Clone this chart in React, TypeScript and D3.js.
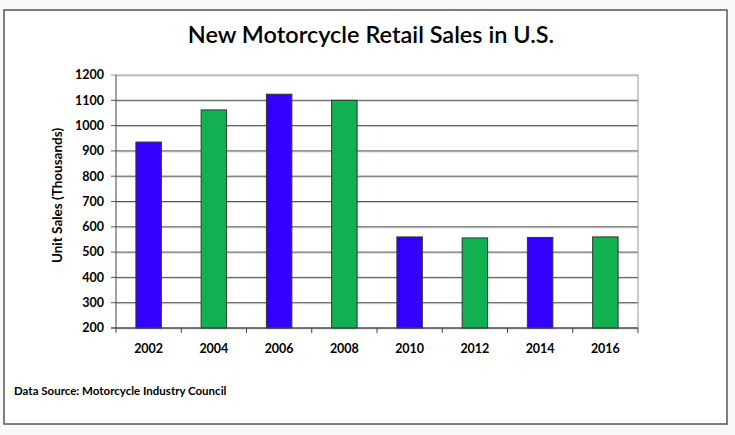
import React from "react";
import * as d3 from "d3";

const years = ["2002", "2004", "2006", "2008", "2010", "2012", "2014", "2016"];
const sales = [935, 1062, 1124, 1100, 560, 556, 558, 560];
const barColors = ["#3300FF", "#11B050", "#3300FF", "#11B050", "#3300FF", "#11B050", "#3300FF", "#11B050"];
const yTicks = [200, 300, 400, 500, 600, 700, 800, 900, 1000, 1100, 1200];

const W = 735;
const H = 435;
const plot = { left: 116, right: 638, top: 75, bottom: 328 };
const FONT = "Lato, 'DejaVu Sans', sans-serif";

export default function App() {
  const x = d3.scaleBand<string>().domain(years).range([plot.left, plot.right]).paddingInner(0.61).paddingOuter(0.305);
  const xStep = d3.scaleBand<string>().domain(years).range([plot.left, plot.right]);
  const y = d3.scaleLinear().domain([200, 1200]).range([plot.bottom, plot.top]);

  return (
    <svg width={W} height={H} style={{ position: "absolute", left: 0, top: 0, background: "#f8f8f8" }}>
      <rect x={4} y={10} width={723} height={414} fill="#ffffff" stroke="#555" strokeWidth={1.5} />
      <text x={371} y={43} textAnchor="middle" fontFamily={FONT} fontSize={23.5} fontWeight={600} fill="#000">
        New Motorcycle Retail Sales in U.S.
      </text>
      {/* gridlines */}
      {yTicks.map((t) => (
        <g key={t}>
          <line x1={plot.left} x2={plot.right} y1={y(t) + 1} y2={y(t) + 1} stroke="#cfcfcf" strokeWidth={1} />
          <line x1={plot.left - 5} x2={plot.right} y1={y(t)} y2={y(t)} stroke={t === 1200 ? "#999" : "#555"} strokeWidth={1} />
          <text x={104} y={y(t)} dy="0.35em" textAnchor="end" fontFamily={FONT} fontSize={12.5} fontWeight={700} fill="#000">
            {t}
          </text>
        </g>
      ))}
      <line x1={plot.right} x2={plot.right} y1={plot.top} y2={plot.bottom} stroke="#999" strokeWidth={1} />
      {/* bars */}
      {years.map((yr, i) => (
        <rect
          key={yr}
          x={x(yr)}
          y={y(sales[i])}
          width={x.bandwidth()}
          height={y(200) - y(sales[i])}
          fill={barColors[i]}
          stroke="#333"
          strokeWidth={1}
        />
      ))}
      {/* axes */}
      <line x1={plot.left} x2={plot.left} y1={plot.top} y2={plot.bottom} stroke="#444" strokeWidth={1} />
      <line x1={plot.left - 5} x2={plot.right} y1={plot.bottom} y2={plot.bottom} stroke="#444" strokeWidth={1} />
      {[...years.map((yr) => xStep(yr) as number), plot.right].map((xv, i) => (
        <line key={i} x1={xv} x2={xv} y1={plot.bottom} y2={plot.bottom + 5} stroke="#444" strokeWidth={1} />
      ))}
      {years.map((yr) => (
        <text key={yr} x={(x(yr) as number) + x.bandwidth() / 2} y={349} dy="0.35em" textAnchor="middle" fontFamily={FONT} fontSize={12.5} fontWeight={700} fill="#000">
          {yr}
        </text>
      ))}
      <text
        transform={`translate(57, ${(plot.top + plot.bottom) / 2 - 6}) rotate(-90)`}
        textAnchor="middle"
        dy="0.35em"
        fontFamily={FONT}
        fontSize={13.5}
        fontWeight={700}
        fill="#000"
      >
        Unit Sales (Thousands)
      </text>
      <text x={14} y={391} dy="0.35em" fontFamily={FONT} fontSize={11.5} fontWeight={700} fill="#000">
        Data Source: Motorcycle Industry Council
      </text>
    </svg>
  );
}
